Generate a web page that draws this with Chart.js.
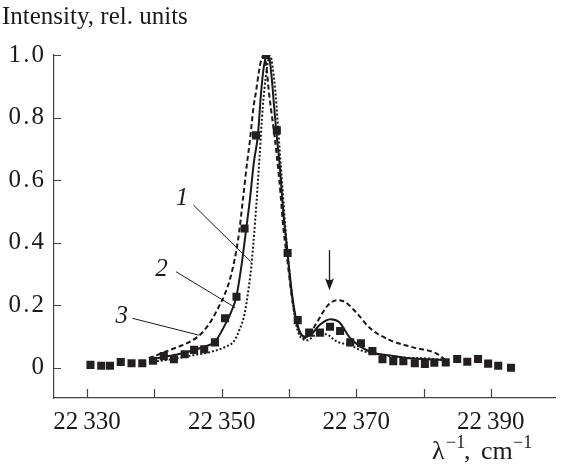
<!DOCTYPE html>
<html>
<head>
<meta charset="utf-8">
<script src="https://cdn.jsdelivr.net/npm/chart.js@4.4.1/dist/chart.umd.min.js"></script>
<style>
  html, body { margin: 0; padding: 0; background: #fff; }
  #wrap { width: 561px; height: 466px; }
</style>
</head>
<body>
<div id="wrap"><canvas id="spectrum" width="561" height="466"></canvas></div>
<script>
// measured spectrum (squares)
const measuredX = [22330.5, 22332.1, 22333.4, 22335.0, 22336.6, 22338.2, 22339.8, 22341.4, 22342.9, 22344.5,
  22345.9, 22347.4, 22349.0, 22350.5, 22352.2, 22353.4, 22355.1, 22356.6, 22358.2, 22359.8,
  22361.3, 22363.0, 22364.6, 22366.1, 22367.6, 22369.1, 22370.7, 22372.4, 22373.9, 22375.5,
  22377.0, 22378.7, 22380.2, 22381.6, 22383.3, 22385.0, 22386.5, 22388.1, 22389.6, 22391.1, 22393.0];
const measuredY = [0.009, 0.006, 0.006, 0.018, 0.014, 0.014, 0.022, 0.037, 0.027, 0.043,
  0.057, 0.059, 0.081, 0.158, 0.227, 0.445, 0.743, 1.0, 0.759, 0.367,
  0.152, 0.112, 0.112, 0.131, 0.117, 0.081, 0.078, 0.053, 0.027, 0.021,
  0.021, 0.014, 0.012, 0.016, 0.017, 0.028, 0.019, 0.028, 0.013, 0.006, 0.0];

// curve 1 (dotted)
const curve1X = [22339.18, 22342.86, 22345.80, 22348.50, 22350.47, 22351.84, 22352.58, 22353.42, 22353.98, 22354.39,
  22354.98, 22355.63, 22356.11, 22356.55, 22356.92, 22357.22, 22357.58, 22358.03, 22358.47, 22358.98,
  22359.50, 22360.09, 22360.68, 22361.27, 22361.86, 22362.74, 22363.92, 22365.43, 22367.16, 22369.12,
  22370.59, 22373.53, 22377.47, 22380.90, 22382.87];
const curve1Y = [0.018, 0.028, 0.040, 0.051, 0.066, 0.085, 0.118, 0.174, 0.25, 0.321,
  0.471, 0.674, 0.834, 0.93, 0.983, 0.997, 0.96, 0.87, 0.74, 0.59,
  0.44, 0.30, 0.19, 0.12, 0.095, 0.088, 0.104, 0.107, 0.083, 0.072,
  0.056, 0.042, 0.032, 0.029, 0.025];

// curve 2 (solid)
const curve2X = [22339.18, 22342.12, 22345.06, 22347.27, 22349.00, 22350.47, 22351.40, 22352.18, 22352.95, 22353.65,
  22354.20, 22354.79, 22355.38, 22355.82, 22356.19, 22356.55, 22356.85, 22357.14, 22357.44, 22357.73,
  22358.10, 22358.62, 22359.20, 22359.79, 22360.38, 22361.02, 22361.71, 22362.49, 22363.48, 22364.51,
  22366.17, 22367.45, 22369.12, 22372.06, 22375.01, 22378.45, 22382.87];
const curve2Y = [0.025, 0.037, 0.051, 0.066, 0.083, 0.136, 0.178, 0.227, 0.328, 0.445,
  0.539, 0.658, 0.743, 0.871, 0.951, 0.993, 1.0, 0.983, 0.926, 0.851,
  0.759, 0.647, 0.488, 0.367, 0.248, 0.159, 0.111, 0.099, 0.110, 0.136,
  0.155, 0.146, 0.094, 0.051, 0.039, 0.029, 0.025];

// curve 3 (dashed)
const curve3X = [22339.18, 22341.63, 22343.59, 22345.55, 22347.02, 22348.50, 22349.48, 22350.47, 22351.44, 22352.43,
  22353.17, 22353.80, 22354.20, 22354.71, 22355.13, 22355.52, 22355.86, 22356.19, 22356.55, 22357.10,
  22357.83, 22358.57, 22359.20, 22359.79, 22360.38, 22361.02, 22361.56, 22362.25, 22363.18, 22364.21,
  22365.68, 22367.16, 22368.34, 22370.10, 22372.06, 22375.01, 22378.45, 22381.88, 22383.11];
const curve3Y = [0.030, 0.051, 0.067, 0.086, 0.110, 0.152, 0.191, 0.235, 0.30, 0.408,
  0.54, 0.66, 0.727, 0.83, 0.887, 0.945, 0.983, 0.997, 0.977, 0.866,
  0.745, 0.599, 0.44, 0.338, 0.232, 0.152, 0.114, 0.094, 0.111, 0.147,
  0.197, 0.216, 0.210, 0.174, 0.126, 0.088, 0.065, 0.046, 0.027];

// axes
const xTickValues = [22330, 22340, 22350, 22360, 22370, 22380, 22390];
const xLabelValues = [22330, 22350, 22370, 22390];
const yTickValues = [0, 0.2, 0.4, 0.6, 0.8, 1.0];

// curve labels with leader lines (data coordinates)
const curveNames = ['1', '2', '3'];
const nameAt = [[22344.1, 0.541], [22341.05, 0.314], [22335.15, 0.163]];
const leaderFrom = [[22345.8, 0.520], [22343.2, 0.307], [22336.72, 0.158]];
const leaderTo = [[22354.34, 0.339], [22352.03, 0.192], [22346.61, 0.104]];
// arrow over the side band
const arrowX = 22366.0;
const arrowFromY = 0.376;
const arrowToY = 0.248;

const serif = '"Liberation Serif", "Times New Roman", serif';
const ink = '#1a1a1a';

const pts = (xs, ys) => xs.map((x, i) => ({ x: x, y: ys[i] }));

// "22 330" with a thin space between thousands
const fmtX = v => {
  const s = String(v);
  return s.slice(0, 2) + '\u2009' + s.slice(2);
};
// decimal point set slightly apart
const fmtY = v => v === 0 ? '0' : v.toFixed(1).replace('.', '\u200A.\u200A');

const decorations = {
  id: 'decorations',
  afterDraw(chart) {
    const ctx = chart.ctx;
    const xs = chart.scales.x, ys = chart.scales.y;
    const area = chart.chartArea;
    ctx.save();

    // inward tick marks
    ctx.strokeStyle = '#444';
    ctx.lineWidth = 1.2;
    ctx.beginPath();
    xTickValues.forEach(v => {
      const px = Math.round(xs.getPixelForValue(v)) + 0.5;
      ctx.moveTo(px, area.bottom);
      ctx.lineTo(px, area.bottom - 9);
    });
    yTickValues.forEach(v => {
      const py = Math.round(ys.getPixelForValue(v)) + 0.5;
      ctx.moveTo(area.left, py);
      ctx.lineTo(area.left + 7, py);
    });
    ctx.stroke();

    // axis titles
    ctx.fillStyle = ink;
    ctx.textBaseline = 'alphabetic';
    ctx.textAlign = 'left';
    ctx.font = '25px ' + serif;
    ctx.fillText('Intensity, rel. units', 2, 24);

    const base = 459;
    ctx.font = '26px ' + serif;
    ctx.fillText('λ', 432, base);
    ctx.fillText(',', 464, base);
    ctx.fillText('cm', 481, base);
    ctx.font = '18px ' + serif;
    ctx.fillText('\u22121', 446, base - 11);
    ctx.fillText('\u22121', 513, base - 11);

    // curve labels and leader lines
    ctx.strokeStyle = ink;
    ctx.lineWidth = 1;
    ctx.font = 'italic 25px ' + serif;
    ctx.textAlign = 'center';
    ctx.textBaseline = 'middle';
    curveNames.forEach((name, i) => {
      ctx.fillText(name, xs.getPixelForValue(nameAt[i][0]), ys.getPixelForValue(nameAt[i][1]));
      ctx.beginPath();
      ctx.moveTo(xs.getPixelForValue(leaderFrom[i][0]), ys.getPixelForValue(leaderFrom[i][1]));
      ctx.lineTo(xs.getPixelForValue(leaderTo[i][0]), ys.getPixelForValue(leaderTo[i][1]));
      ctx.stroke();
    });

    // arrow
    const ax = Math.round(xs.getPixelForValue(arrowX)) + 0.5;
    const ay0 = ys.getPixelForValue(arrowFromY);
    const ay1 = ys.getPixelForValue(arrowToY);
    ctx.lineWidth = 1.3;
    ctx.beginPath();
    ctx.moveTo(ax, ay0);
    ctx.lineTo(ax, ay1 - 6);
    ctx.stroke();
    ctx.fillStyle = ink;
    ctx.beginPath();
    ctx.moveTo(ax, ay1);
    ctx.lineTo(ax - 4.5, ay1 - 12);
    ctx.quadraticCurveTo(ax, ay1 - 8, ax + 4.5, ay1 - 12);
    ctx.closePath();
    ctx.fill();

    ctx.restore();
  }
};

new Chart(document.getElementById('spectrum').getContext('2d'), {
  type: 'line',
  data: {
    datasets: [
      {
        label: 'measured',
        data: pts(measuredX, measuredY),
        showLine: false,
        pointStyle: 'rect',
        pointRadius: 5.7,
        pointBackgroundColor: '#231f20',
        pointBorderWidth: 0,
        order: 0
      },
      {
        label: '1',
        data: pts(curve1X, curve1Y),
        borderColor: ink,
        borderWidth: 2,
        borderDash: [2, 2],
        pointRadius: 0,
        cubicInterpolationMode: 'monotone',
        order: 3
      },
      {
        label: '2',
        data: pts(curve2X, curve2Y),
        borderColor: ink,
        borderWidth: 2,
        pointRadius: 0,
        cubicInterpolationMode: 'monotone',
        order: 2
      },
      {
        label: '3',
        data: pts(curve3X, curve3Y),
        borderColor: ink,
        borderWidth: 2,
        borderDash: [5, 3],
        pointRadius: 0,
        cubicInterpolationMode: 'monotone',
        order: 1
      }
    ]
  },
  options: {
    responsive: false,
    animation: false,
    devicePixelRatio: 1,
    layout: { padding: { top: 55, right: 1, left: 0, bottom: 0 } },
    plugins: { legend: { display: false }, tooltip: { enabled: false } },
    scales: {
      x: {
        type: 'linear',
        min: 22325.08,
        max: 22399.58,
        afterBuildTicks: scale => { scale.ticks = xTickValues.map(v => ({ value: v })); },
        afterFit: scale => { scale.height = 68; },
        grid: { display: false, drawTicks: false },
        border: { display: true, color: '#444', width: 1.2 },
        ticks: {
          autoSkip: false,
          maxRotation: 0,
          padding: 9,
          color: ink,
          font: { family: serif, size: 25 },
          callback: v => xLabelValues.includes(v) ? fmtX(v) : ''
        }
      },
      y: {
        type: 'linear',
        min: -0.097,
        max: 1.0,
        afterBuildTicks: scale => { scale.ticks = yTickValues.map(v => ({ value: v })); },
        afterFit: scale => { scale.width = 54; },
        grid: { display: false, drawTicks: false },
        border: { display: true, color: '#444', width: 1.2 },
        ticks: {
          padding: 10,
          color: ink,
          font: { family: serif, size: 25 },
          callback: fmtY
        }
      }
    }
  },
  plugins: [decorations]
});
</script>
</body>
</html>
